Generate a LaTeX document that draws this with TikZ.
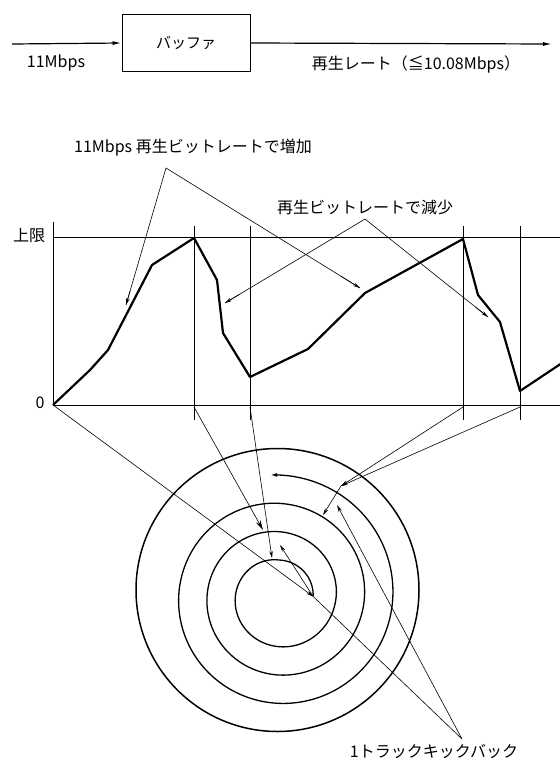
\documentclass[tikz,border=0pt]{standalone}
\usepackage{fontspec}
\setmainfont{Noto Sans CJK JP}
\usetikzlibrary{arrows.meta,calc}
\begin{document}
\begin{tikzpicture}[x=1pt,y=-1pt,
  every node/.style={font=\fontsize{16}{18}\selectfont, inner sep=0pt},
  thinln/.style={line width=0.6pt},
  ptr/.style={line width=0.6pt, -{Stealth[length=7pt,width=3.5pt]}},
  axisln/.style={line width=0.8pt},
  curve/.style={line width=2.2pt, line join=round},
  disc/.style={line width=1.5pt},
  trk/.style={line width=1.3pt}]
\useasboundingbox (0,0) rectangle (560,761);

% ---- top block diagram ----
\coordinate (inS) at (12,44);
\coordinate (outE) at (552,44);
\node[draw, line width=0.9pt, minimum width=128pt, minimum height=57pt,
  font=\fontsize{15}{17}\selectfont] (buf) at (186,43) {バッファ};
\draw[line width=1.2pt, -{Latex[length=9pt,width=4pt]}] (inS) -- (buf.west);
\draw[line width=1.2pt, -{Latex[length=9pt,width=4pt]}] (buf.east) -- (outE);
\node (lin) at (56,63) {11Mbps};
\node (lout) at (416,64) {再生レート（≦10.08Mbps）};

% ---- graph ----
\node (lim) at (29,236) {上限};
\node (zero) at (40,403) {0};
\coordinate (ax0) at (53,405);
\coordinate (axT) at (53,222);
\coordinate (limL) at (53,237);
\coordinate (limR) at (560,237);
\coordinate (axR) at (560,405);
\draw[axisln] (ax0) -- (axT);
\draw[thinln] (limL) -- (limR);
\draw[axisln] (ax0) -- (axR);
\foreach \x in {194,250,463,520} {
  \draw[thinln] (\x,226) -- (\x,420);
}
\draw[curve] (ax0) -- (90,370) -- (108,350) -- (152,265) -- (194,238) -- (217,280)
  -- (223,333) -- (250,377) -- (308,349) -- (365,293) -- (463,239) -- (478,295)
  -- (500,322) -- (520,391) -- (562,363);

% labels with pointers
\node (l1) at (193,148) {11Mbps 再生ビットレートで増加};
\coordinate (a1) at (166,168);
\coordinate (t1a) at (126,305);
\coordinate (t1b) at (360,288);
\draw[thinln] (t1a) -- (a1) -- (t1b);
\draw[ptr] ($(a1)!0.9!(t1a)$) -- (t1a);
\draw[ptr] ($(a1)!0.9!(t1b)$) -- (t1b);

\node (l2) at (365,207) {再生ビットレートで減少};
\coordinate (a2) at (365,219);
\coordinate (t2a) at (225,303);
\coordinate (t2b) at (488,317);
\draw[thinln] (t2a) -- (a2) -- (t2b);
\draw[ptr] ($(a2)!0.9!(t2a)$) -- (t2a);
\draw[ptr] ($(a2)!0.9!(t2b)$) -- (t2b);

% ---- disc ----
\node[draw, disc, circle, minimum size=283pt] (discC) at (277.5,590) {};
\draw[trk, {Latex[length=7pt,width=4pt]}-] plot[domain=-4:1080, samples=400, variable=\t, smooth]
  ({278.7 + (121.25 - 0.0787*\t)*sin(\t)}, {596.25 - (121.25 - 0.0787*\t)*cos(\t)});
\draw[trk] plot[domain=1080:1170, samples=40, variable=\t, smooth]
  ({278.7 + (36.25 - 0.02*(\t-1080))*sin(\t)}, {596.25 - (36.25 - 0.02*(\t-1080))*cos(\t)});

\coordinate (O) at (53,405);
\coordinate (v1) at (194,407);
\coordinate (v2) at (250,407);
\coordinate (v3) at (463,407);
\coordinate (v4) at (520,407);
\coordinate (tip) at (313.2,596.5);
\coordinate (kb1) at (280,545);
\coordinate (p1) at (263,530);
\coordinate (p2) at (272,558);
\coordinate (K) at (341,486);
\coordinate (kb2) at (323,515);
\coordinate (pl) at (337,505);

\draw[ptr] (O) -- (tip);
\draw[ptr] (tip) -- (kb1);
\draw[line width=0.6pt, -{Stealth[length=10pt,width=5pt]}] (v1) -- (p1);
\draw[ptr] (v2) -- (p2);
\draw[ptr] (v3) -- (K);
\draw[ptr] (v4) -- (K);
\draw[ptr] (K) -- (kb2);

\node (l3) at (434,752) {1トラックキックバック};
\coordinate (L) at (462,739);
\draw[thinln] (L) -- (tip);
\draw[ptr] (L) -- (pl);
\end{tikzpicture}
\end{document}
